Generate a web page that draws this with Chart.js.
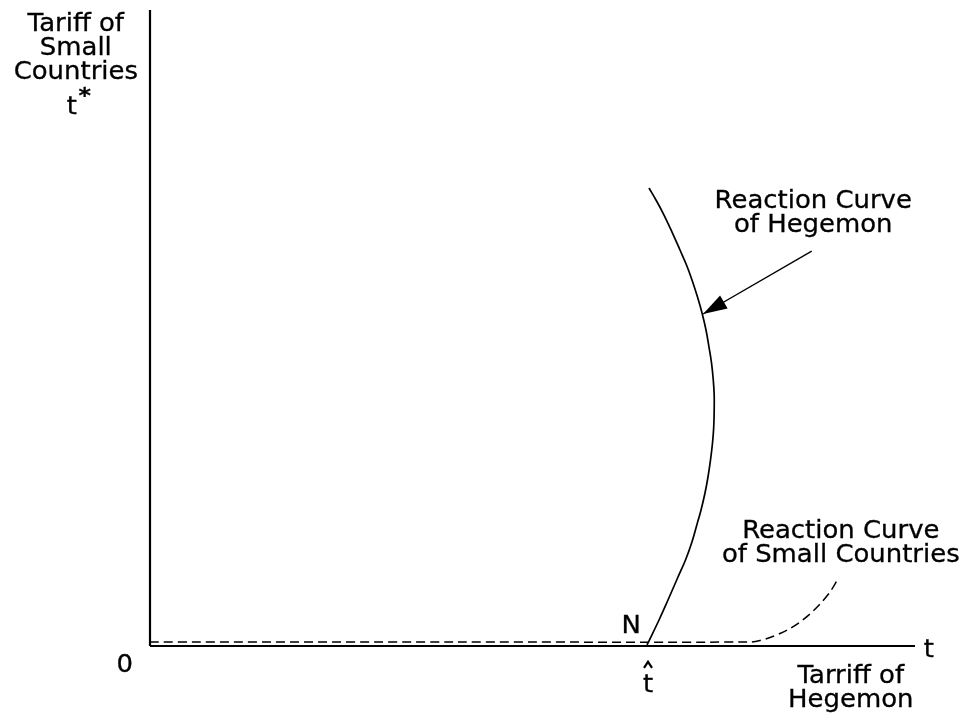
<!DOCTYPE html>
<html>
<head>
<meta charset="utf-8">
<script src="https://cdn.jsdelivr.net/npm/chart.js@4.4.1/dist/chart.umd.min.js"></script>
<style>
html, body { margin: 0; padding: 0; background: #fff; }
#wrap { width: 970px; height: 721px; }
</style>
</head>
<body>
<div id="wrap"><canvas id="chart"></canvas></div>
<script>
// t = tariff of hegemon (x), t* = tariff of small countries (y), both on a 0..100 scale
const hegemonT = [64.97, 66.54, 67.71, 69.02, 70.00, 70.80, 71.48, 72.03, 72.55, 72.94, 73.27, 73.53, 73.69, 73.75,
                  73.75, 73.63, 73.40, 73.07, 72.68, 72.16, 71.57, 70.85, 70.13, 69.28, 68.24, 67.06, 66.14, 65.23];
const hegemonTStar = [0.16, 4.09, 7.23, 10.85, 13.52, 16.19, 19.03, 21.38, 24.06, 26.57, 29.25, 31.92, 34.43, 37.11,
                      39.47, 41.82, 44.50, 47.01, 49.69, 52.36, 54.87, 57.55, 59.91, 62.26, 65.09, 68.08, 70.13, 72.01];

const smallT     = [0, 40, 78.43, 79.74, 81.05, 82.35, 83.66, 84.97, 86.27, 87.58, 88.89, 89.93];
const smallTStar = [0.63, 0.63, 0.63, 0.86, 1.34, 1.97, 2.75, 3.77, 5.03, 6.60, 8.49, 10.53];

const axisX = [0, 100];
const axisY = [0, 100];

const arrowT     = [86.5, 72.3];
const arrowTStar = [62.1, 52.2];

const toPoints = (xs, ys) => xs.map((x, i) => ({ x: x, y: ys[i] }));

// text placed at data coordinates (first baseline)
const notes = [
    { lines: ['Reaction Curve', 'of Hegemon'], x: 86.7, y: 68.9 },
    { lines: ['Reaction Curve', 'of Small Countries'], x: 90.3, y: 17.0 },
    { lines: ['Tariff of', 'Small', 'Countries'], x: -9.7, y: 96.7 },
    { lines: ['Tarriff of', 'Hegemon'], x: 91.6, y: -5.8 },
    { lines: ['N'], x: 62.9, y: 2.0 },
    { lines: ['0'], x: -3.3, y: -4.1 },
    { lines: ['t'], x: 101.8, y: -1.7 }
];

const FONT = '24px "DejaVu Sans"';
const LINE_H = 24;
const STRETCH = 1.08;

function drawText(ctx, s, cx, by) {
    ctx.save();
    ctx.translate(cx, by);
    ctx.scale(STRETCH, 1);
    ctx.fillText(s, 0, 0);
    ctx.strokeText(s, 0, 0);
    ctx.restore();
}

const annotations = {
    id: 'annotations',
    afterDatasetsDraw(chart) {
        const ctx = chart.ctx;
        const xs = chart.scales.x;
        const ys = chart.scales.y;
        ctx.save();
        ctx.fillStyle = '#000';
        ctx.strokeStyle = '#000';
        ctx.lineWidth = 0.3;
        ctx.font = FONT;
        ctx.textAlign = 'center';
        ctx.textBaseline = 'alphabetic';

        notes.forEach(n => {
            const px = xs.getPixelForValue(n.x);
            const py = ys.getPixelForValue(n.y);
            n.lines.forEach((l, i) => drawText(ctx, l, px, py + i * LINE_H));
        });

        // t* under the y-axis label
        const sx = xs.getPixelForValue(-9.7);
        const sy = ys.getPixelForValue(83.6);
        drawText(ctx, 't', sx - 4, sy);
        ctx.font = 'bold 22px "DejaVu Sans"';
        drawText(ctx, '*', sx + 9, sy - 11);
        ctx.font = FONT;

        // t-hat under N
        const hx = xs.getPixelForValue(65.1);
        const hy = ys.getPixelForValue(-7.2);
        drawText(ctx, 't', hx, hy);
        ctx.beginPath();
        ctx.moveTo(hx - 4, hy - 24);
        ctx.lineTo(hx, hy - 30);
        ctx.lineTo(hx + 4, hy - 24);
        ctx.lineWidth = 2.2;
        ctx.stroke();

        // arrow head
        const x0 = xs.getPixelForValue(arrowT[0]), y0 = ys.getPixelForValue(arrowTStar[0]);
        const x1 = xs.getPixelForValue(arrowT[1]), y1 = ys.getPixelForValue(arrowTStar[1]);
        const a = Math.atan2(y1 - y0, x1 - x0);
        const len = 24, half = 7.5;
        ctx.beginPath();
        ctx.moveTo(x1, y1);
        ctx.lineTo(x1 - len * Math.cos(a) + half * Math.sin(a), y1 - len * Math.sin(a) - half * Math.cos(a));
        ctx.lineTo(x1 - len * Math.cos(a) - half * Math.sin(a), y1 - len * Math.sin(a) + half * Math.cos(a));
        ctx.closePath();
        ctx.fill();
        ctx.restore();
    }
};

const line = (data, extra) => Object.assign({
    data: data,
    showLine: true,
    pointRadius: 0,
    borderColor: '#000',
    borderWidth: 1.7,
    tension: 0,
    clip: false
}, extra);

new Chart(document.getElementById('chart'), {
    type: 'scatter',
    data: {
        datasets: [
            line(toPoints(axisX, [0, 0]), { borderWidth: 2.2 }),
            line(toPoints([0, 0], axisY), { borderWidth: 2.2 }),
            line(toPoints(smallT, smallTStar), { borderDash: [9, 5], borderWidth: 1.5, tension: 0.3 }),
            line(toPoints(hegemonT, hegemonTStar), { tension: 0.4 }),
            line(toPoints(arrowT, arrowTStar), { borderWidth: 1.4 })
        ]
    },
    options: {
        responsive: true,
        maintainAspectRatio: false,
        animation: false,
        layout: { padding: { left: 150, right: 55, top: 10, bottom: 75 } },
        plugins: { legend: { display: false }, tooltip: { enabled: false } },
        scales: {
            x: { type: 'linear', min: 0, max: 100, display: false },
            y: { type: 'linear', min: 0, max: 100, display: false }
        }
    },
    plugins: [annotations]
});
</script>
</body>
</html>
